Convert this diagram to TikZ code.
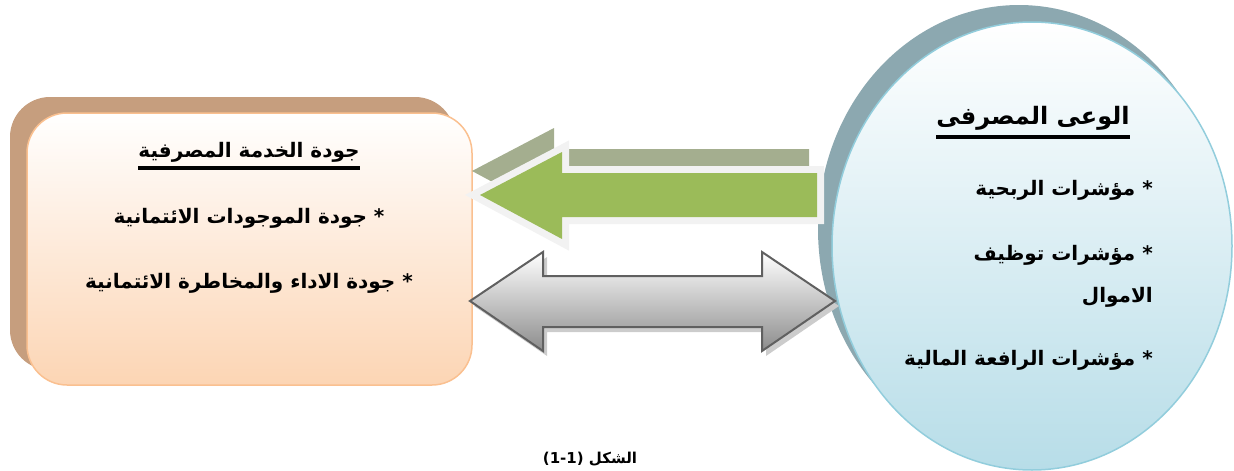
\documentclass[tikz,border=0pt]{standalone}
\usepackage{fontspec}
\newfontfamily\arabicfont[Script=Arabic]{DejaVu Sans}
\TeXXeTstate=1
\definecolor{boxshadow}{RGB}{198,158,126}
\definecolor{boxfill}{RGB}{252,213,180}
\definecolor{boxline}{RGB}{250,192,144}
\definecolor{ovalshadow}{RGB}{140,168,176}
\definecolor{ovalfill}{RGB}{183,221,232}
\definecolor{ovalline}{RGB}{146,205,220}
\definecolor{greenfill}{RGB}{155,187,89}
\definecolor{greenshadow}{RGB}{164,174,143}
\definecolor{greenrim}{RGB}{242,242,242}
\definecolor{greyrim}{RGB}{96,96,96}
\tikzset{
  ar/.style={font=\arabicfont\bfseries\fontsize{20}{24}\selectfont, inner sep=0pt},
  artitle/.style={font=\arabicfont\bfseries\fontsize{24}{28}\selectfont, inner sep=0pt},
  arcap/.style={font=\arabicfont\bfseries\fontsize{15}{18}\selectfont, inner sep=0pt},
  uline/.style={line width=3.5pt, black},
}
\begin{document}
\begin{tikzpicture}[x=1pt,y=-1pt]
\useasboundingbox (0,0) rectangle (1234,471);

% left rounded box with its shadow
\fill[boxshadow, rounded corners=40pt] (10,97) rectangle (455,370);
\draw[boxline, line width=1.5pt, top color=white, bottom color=boxfill, rounded corners=40pt]
  (27,113) rectangle (472,385);

% right oval with its shadow
\fill[ovalshadow] (1019,229) ellipse [x radius=201, y radius=224];
\draw[ovalline, line width=1.5pt, top color=white, bottom color=ovalfill]
  (1032,246) ellipse [x radius=200, y radius=224];

% green one-way arrow
\fill[greenshadow, shift={(-8,-24)}]
  (480,195) -- (562,152) -- (562,173) -- (817,173) -- (817,217) -- (562,217) -- (562,239) -- cycle;
\draw[greenrim, line width=14pt, line join=miter, miter limit=20]
  (480,195) -- (562,152) -- (562,173) -- (817,173) -- (817,217) -- (562,217) -- (562,239) -- cycle;
\fill[greenfill]
  (480,195) -- (562,152) -- (562,173) -- (817,173) -- (817,217) -- (562,217) -- (562,239) -- cycle;

% grey two-way arrow
\fill[black!20, shift={(4,5)}]
  (470,301) -- (543,252) -- (543,276) -- (762,276) -- (762,252) -- (835,301)
  -- (762,351) -- (762,327) -- (543,327) -- (543,351) -- cycle;
\draw[greyrim, line width=2pt, line join=miter, top color=white, bottom color=black!45]
  (470,301) -- (543,252) -- (543,276) -- (762,276) -- (762,252) -- (835,301)
  -- (762,351) -- (762,327) -- (543,327) -- (543,351) -- cycle;

% texts of the box
\node[ar] (bt) at (249,152) {\beginR جودة الخدمة المصرفية\endR};
\draw[uline] ([yshift=-6pt]bt.south west) -- ([yshift=-6pt]bt.south east);
\node[ar] (b1) at (249,218) {\beginR * جودة الموجودات الائتمانية\endR};
\node[ar] (b2) at (249,283) {\beginR * جودة الاداء والمخاطرة الائتمانية\endR};

% texts of the oval
\node[artitle] (ot) at (1033,118) {\beginR الوعى المصرفى\endR};
\draw[uline] ([yshift=-7pt]ot.south west) -- ([yshift=-7pt]ot.south east);
\node[ar, anchor=east] (o1) at (1153,190) {\beginR * مؤشرات الربحية\endR};
\node[ar, anchor=east] (o2) at (1153,255) {\beginR * مؤشرات توظيف\endR};
\node[ar, anchor=east] (o3) at (1153,297) {\beginR الاموال\endR};
\node[ar, anchor=east] (o4) at (1153,360) {\beginR * مؤشرات الرافعة المالية\endR};

% caption
\node[arcap] (cap) at (590,459) {\beginR الشكل \beginL(1-1)\endL\endR};
\end{tikzpicture}
\end{document}
